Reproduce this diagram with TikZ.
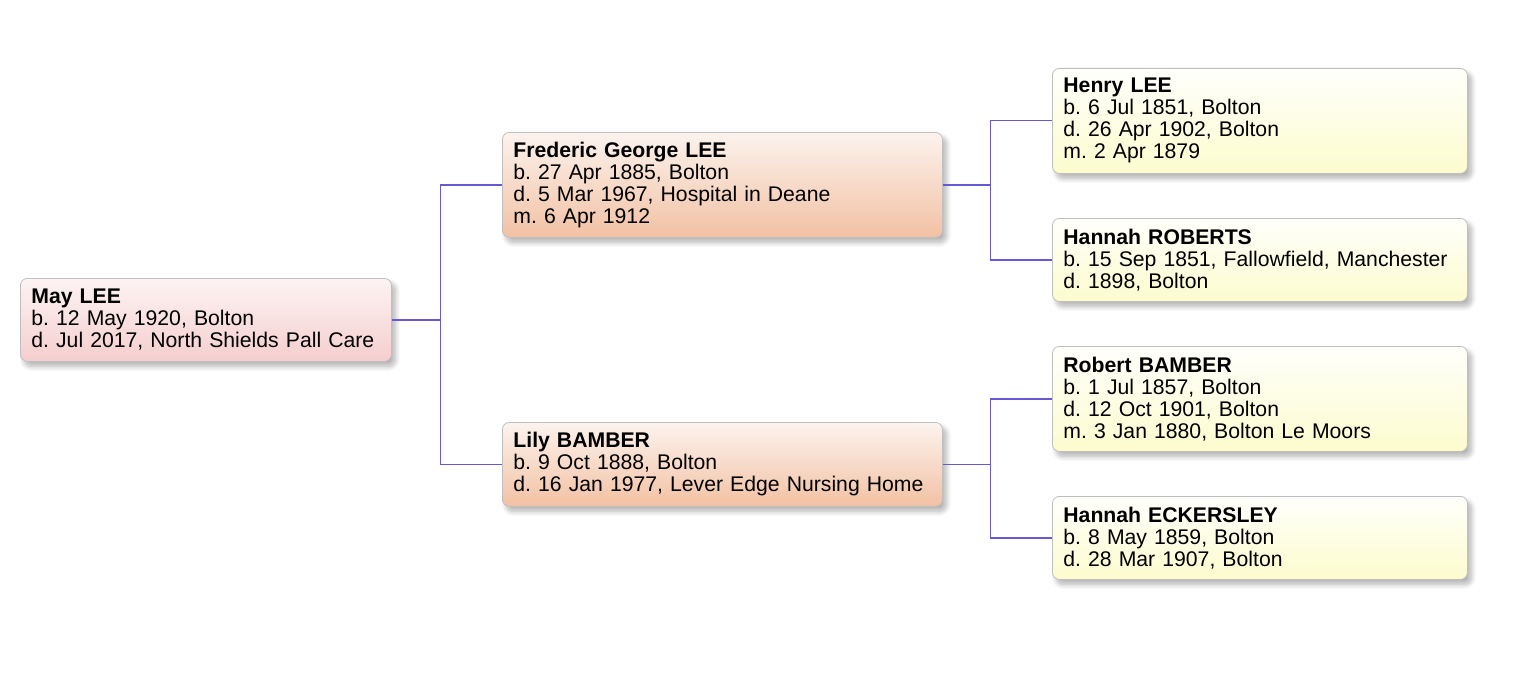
\documentclass[tikz,border=0pt]{standalone}
\usepackage{fontspec}
\setmainfont{Liberation Sans}
\usepackage{tikz}
\usetikzlibrary{shadows.blur}

\definecolor{linkblue}{RGB}{104,88,212}
\definecolor{pinktop}{RGB}{253,243,243}
\definecolor{pinkbot}{RGB}{245,206,206}
\definecolor{peachtop}{RGB}{252,243,238}
\definecolor{peachbot}{RGB}{242,193,163}
\definecolor{yeltop}{RGB}{255,255,252}
\definecolor{yelbot}{RGB}{252,252,206}

\begin{document}
\frenchspacing
\begin{tikzpicture}[
    x=1pt, y=-1pt,
    person/.style={draw=black!25, rounded corners=7pt, line width=0.8pt,
                   anchor=north west, align=left, inner xsep=11pt, inner ysep=2pt,
                   font=\fontsize{21.2}{22}\selectfont,
                   blur shadow={shadow xshift=4pt, shadow yshift=-5pt,
                                shadow opacity=30, shadow blur steps=10,
                                shadow blur radius=5pt}},
    self/.style={person, top color=pinktop, bottom color=pinkbot,
                 minimum width=371pt, text width=349pt},
    parent/.style={person, top color=peachtop, bottom color=peachbot,
                   minimum width=440pt, text width=418pt},
    grand/.style={person, top color=yeltop, bottom color=yelbot,
                  minimum width=415pt, text width=393pt},
    link/.style={linkblue, line width=1.2pt}
]
\useasboundingbox (0,0) rectangle (1514,682);

% Generation 0
\node[self, minimum height=83pt] (may) at (20,278)
    {\textbf{May LEE}\\b. 12 May 1920, Bolton\\d. Jul 2017, North Shields Pall Care};

% Parents
\node[parent, minimum height=105pt] (fred) at (502,132)
    {\textbf{Frederic George LEE}\\b. 27 Apr 1885, Bolton\\d. 5 Mar 1967, Hospital in Deane\\m. 6 Apr 1912};
\node[parent, minimum height=84pt] (lily) at (502,422)
    {\textbf{Lily BAMBER}\\b. 9 Oct 1888, Bolton\\d. 16 Jan 1977, Lever Edge Nursing Home};

% Grandparents
\node[grand, minimum height=105pt] (henry) at (1052,68)
    {\textbf{Henry LEE}\\b. 6 Jul 1851, Bolton\\d. 26 Apr 1902, Bolton\\m. 2 Apr 1879};
\node[grand, minimum height=83pt] (hroberts) at (1052,218)
    {\textbf{Hannah ROBERTS}\\b. 15 Sep 1851, Fallowfield, Manchester\\d. 1898, Bolton};
\node[grand, minimum height=105pt] (robert) at (1052,346)
    {\textbf{Robert BAMBER}\\b. 1 Jul 1857, Bolton\\d. 12 Oct 1901, Bolton\\m. 3 Jan 1880, Bolton Le Moors};
\node[grand, minimum height=83pt] (heckersley) at (1052,496)
    {\textbf{Hannah ECKERSLEY}\\b. 8 May 1859, Bolton\\d. 28 Mar 1907, Bolton};

% Links
\draw[link] (may.east) -- ++(49,0) |- (fred.west);
\draw[link] (may.east) -- ++(49,0) |- (lily.west);
\draw[link] (fred.east) -- ++(48,0) |- (henry.west);
\draw[link] (fred.east) -- ++(48,0) |- (hroberts.west);
\draw[link] (lily.east) -- ++(48,0) |- (robert.west);
\draw[link] (lily.east) -- ++(48,0) |- (heckersley.west);

\end{tikzpicture}
\end{document}
